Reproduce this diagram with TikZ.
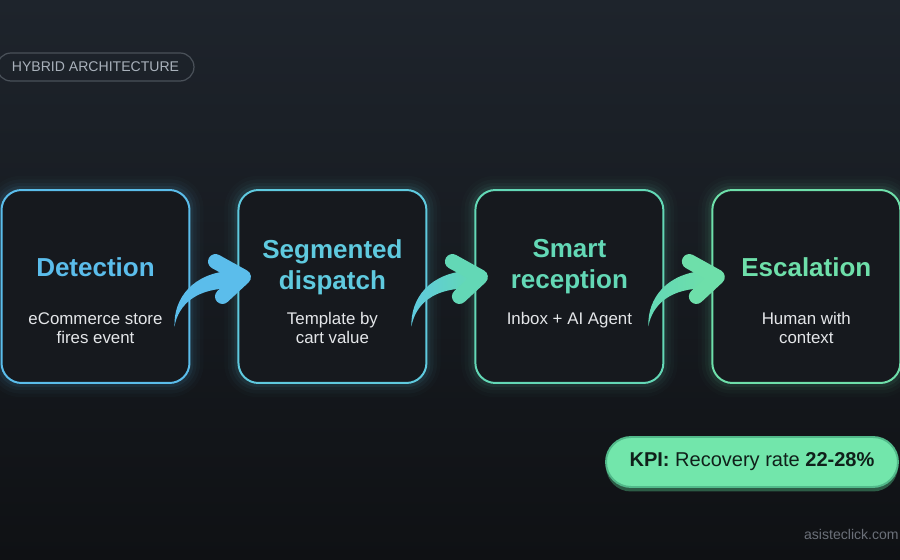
\documentclass[tikz,border=0pt]{standalone}
\usepackage{fontspec}
\setmainfont{Liberation Sans}
\usetikzlibrary{positioning, calc, backgrounds, shadows}
\definecolor{bgtop}{HTML}{1E242C}
\definecolor{bgmid}{HTML}{15191E}
\definecolor{bgbot}{HTML}{0F1114}
\definecolor{boxfill}{HTML}{16191E}
\definecolor{stepblue}{HTML}{5BBDEB}
\definecolor{stepcyan}{HTML}{5FCADF}
\definecolor{stepteal}{HTML}{63D8B6}
\definecolor{stepgreen}{HTML}{6EDFAA}
\definecolor{subtext}{HTML}{E4E6E9}
\definecolor{tagline}{HTML}{4A5159}
\definecolor{tagtext}{HTML}{A9B1BB}
\definecolor{kpifill}{HTML}{72E6AB}
\definecolor{kpiline}{HTML}{52B98A}
\definecolor{kpishadow}{HTML}{2C5C46}
\definecolor{kpitext}{HTML}{10201A}
\definecolor{sitetext}{HTML}{6B7079}
\tikzset{
  >=latex,
  % riquadri delle fasi
  stage/.style={draw=#1, line width=1.13pt, fill=boxfill, rounded corners=0.4cm,
    minimum width=3.76cm, minimum height=3.86cm},
  stage title/.style={text=#1, font=\fontsize{14.8}{17.6}\selectfont\bfseries, align=center},
  stage text/.style={text=subtext, font=\fontsize{9.6}{10.8}\selectfont, align=center,
    anchor=north, inner sep=0},
  % etichette
  tag/.style={draw=tagline, line width=0.7pt, rounded corners=0.28cm, text=tagtext,
    minimum width=3.94cm, minimum height=0.56cm, inner sep=0,
    font=\fontsize{8}{9}\selectfont},
  kpi/.style={draw=kpiline, line width=1.1pt, fill=kpifill, rounded corners=0.5cm,
    minimum width=5.84cm, minimum height=1cm, text=kpitext,
    font=\fontsize{11.4}{13}\selectfont,
    drop shadow={shadow xshift=0cm, shadow yshift=-0.09cm, fill=kpishadow, opacity=1}},
  site/.style={text=sitetext, font=\fontsize{8}{10}\selectfont, inner sep=0}
}
% freccia curva tra due fasi
\newcommand{\flowarrow}[4]{%
  \shade[left color=#3, right color=#4]
    ($(#1.east)+(-16,40)$) .. controls ($(#1.east)+(-17,12)$) and ($(#1.east)+(2,-14)$) .. ($(#2.west)+(-4,-16)$)
    -- ($(#2.west)+(-4,2)$) .. controls ($(#1.east)+(6,1)$) and ($(#1.east)+(-12,18)$) .. cycle;
  \draw[#4, line width=8.5pt, line cap=round, line join=round]
    ($(#2.west)+(-22,-25)$) -- ($(#2.west)+(6,-9.5)$) -- ($(#2.west)+(-15,10)$);
}

\begin{document}
\begin{tikzpicture}[x=0.02cm, y=-0.02cm]
  \useasboundingbox (0,0) rectangle (900,560);

  \node[tag] (tag) at (95.5,67) {HYBRID ARCHITECTURE};

  \node[stage=stepblue] (detect) at (95.5,286.5) {};
  \node[stage=stepcyan, right=0.94cm of detect] (dispatch) {};
  \node[stage=stepteal, right=0.94cm of dispatch] (reception) {};
  \node[stage=stepgreen, right=0.94cm of reception] (escalation) {};

  \begin{scope}[on background layer]
    \shade[top color=bgtop, middle color=bgmid, bottom color=bgbot] (0,0) rectangle (900,560);
    \foreach \b/\c in {detect/stepblue, dispatch/stepcyan, reception/stepteal, escalation/stepgreen}
      \foreach \w/\o in {15pt/0.02, 11pt/0.03, 7pt/0.045, 3.4pt/0.07}
        \draw[\c, line width=\w, opacity=\o, rounded corners=0.4cm]
          (\b.south west) rectangle (\b.north east);
  \end{scope}

  \node[stage title=stepblue] (detect title) at ($(detect)+(0,-19.5)$) {Detection};
  \node[stage text] (detect text) at ($(detect)+(0,25.5)$) {eCommerce store\\fires event};
  \node[stage title=stepcyan] (dispatch title) at ($(dispatch)+(0,-19.5)$) {Segmented\\dispatch};
  \node[stage text] (dispatch text) at ($(dispatch)+(0,25.5)$) {Template by\\cart value};
  \node[stage title=stepteal] (reception title) at ($(reception)+(0,-19.5)$) {Smart\\reception};
  \node[stage text] (reception text) at ($(reception)+(0,25.5)$) {Inbox + AI Agent};
  \node[stage title=stepgreen] (escalation title) at ($(escalation)+(0,-19.5)$) {Escalation};
  \node[stage text] (escalation text) at ($(escalation)+(0,25.5)$) {Human with\\context};

  \flowarrow{detect}{dispatch}{stepblue}{stepblue}
  \flowarrow{dispatch}{reception}{stepcyan}{stepteal}
  \flowarrow{reception}{escalation}{stepteal}{stepgreen}

  \node[kpi] (kpi) at (752,462) {\textbf{KPI:} Recovery rate \textbf{22-28\%}};
  \node[site, anchor=east] (site) at (899,534) {asisteclick.com};
\end{tikzpicture}
\end{document}
